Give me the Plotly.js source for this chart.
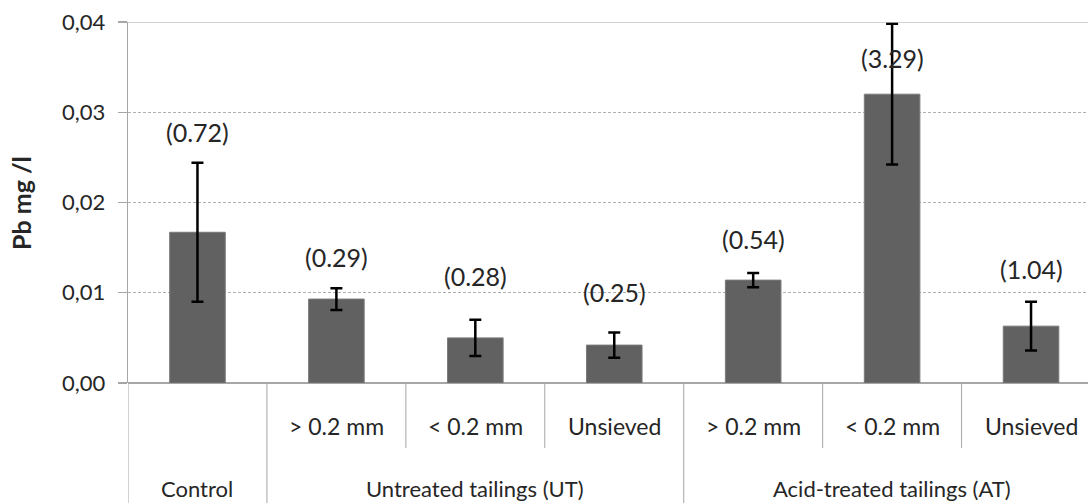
<!DOCTYPE html>
<html>
<head>
<meta charset="utf-8">
<script src="https://cdn.plot.ly/plotly-3.0.1.min.js"></script>
<style>
  html, body { margin: 0; padding: 0; background: #fff; overflow: hidden; }
  #chart { width: 1088px; height: 503px; }
</style>
</head>
<body>
<div id="chart"></div>
<script>
// ---- data ----
const subLabels = ["", "> 0.2 mm", "< 0.2 mm", "Unsieved", "> 0.2 mm", "< 0.2 mm", "Unsieved"];
const groupLabels = ["Control", "Untreated tailings (UT)", "Acid-treated tailings (AT)"];
const groupSizes = [1, 3, 3];
const values = [0.0167, 0.0093, 0.0050, 0.0042, 0.0114, 0.0320, 0.0063];
const errors = [0.0077, 0.0012, 0.0020, 0.0014, 0.0008, 0.0078, 0.0027];
const valueLabels = ["(0.72)", "(0.29)", "(0.28)", "(0.25)", "(0.54)", "(3.29)", "(1.04)"];
const yTickVals = [0, 0.01, 0.02, 0.03, 0.04];

// ---- style / placement config ----
const labelShift = [31, 31, 44, 40, 34, -34, 33]; // px offset of value label from error-bar top
const FONT = "Lato, 'Open Sans', sans-serif";
const TXT = "#262626";
const LINE = "#a6a6a6";
const subRowBottom = -0.18;
const tableBottom = -0.40;

const xs = values.map((_, i) => i);
const tops = values.map((v, i) => v + errors[i]);

const trace = {
  type: "bar",
  x: xs,
  y: values,
  width: 0.4,
  marker: { color: "#616161", line: { color: "#7a7a7a", width: 1 } },
  error_y: { type: "data", array: errors, visible: true, color: "#000", thickness: 2.5, width: 6 },
  hoverinfo: "skip"
};

const annotations = [];
valueLabels.forEach((t, i) => {
  annotations.push({
    x: xs[i], y: tops[i], xref: "x", yref: "y", text: t, showarrow: false,
    yshift: labelShift[i], yanchor: "middle", xanchor: "center",
    font: { family: FONT, size: 25, color: TXT }
  });
});
subLabels.forEach((t, i) => {
  if (!t) return;
  annotations.push({
    x: xs[i], y: -0.119, xref: "x", yref: "paper", text: t, showarrow: false,
    yanchor: "middle", xanchor: "center",
    font: { family: FONT, size: 23, color: TXT }
  });
});

const shapes = [];
let start = 0;
groupLabels.forEach((g, gi) => {
  const n = groupSizes[gi];
  const center = (xs[start] + xs[start + n - 1]) / 2;
  annotations.push({
    x: center, y: -0.292, xref: "x", yref: "paper", text: g, showarrow: false,
    yanchor: "middle", xanchor: "center",
    font: { family: FONT, size: 22, color: TXT }
  });
  shapes.push({ type: "line", xref: "x", yref: "paper", x0: start - 0.5, x1: start - 0.5,
    y0: 0, y1: tableBottom, line: { color: LINE, width: 1 } });
  for (let k = 1; k < n; k++) {
    const bx = start + k - 0.5;
    shapes.push({ type: "line", xref: "x", yref: "paper", x0: bx, x1: bx,
      y0: 0, y1: subRowBottom, line: { color: LINE, width: 1 } });
  }
  start += n;
});
shapes.push({ type: "line", xref: "x", yref: "paper", x0: start - 0.5, x1: start - 0.5,
  y0: 0, y1: tableBottom, line: { color: LINE, width: 1 } });
shapes.push({ type: "line", xref: "paper", yref: "y", x0: 0, x1: 1, y0: 0.04, y1: 0.04,
  line: { color: LINE, width: 1.2 } });

annotations.push({
  x: -0.112, y: 0.5, xref: "paper", yref: "paper", text: "<b>Pb mg /l</b>", showarrow: false,
  textangle: -90, xanchor: "center", yanchor: "middle",
  font: { family: FONT, size: 25, color: TXT }
});

const layout = {
  width: 1088, height: 503,
  margin: { l: 128, r: 0, t: 22, b: 120, pad: 0 },
  paper_bgcolor: "#fff", plot_bgcolor: "#fff",
  separators: ", ",
  showlegend: false,
  xaxis: {
    type: "linear", range: [-0.5, 6.41], showgrid: false, zeroline: false,
    showticklabels: false, ticks: "", showline: false, fixedrange: true
  },
  yaxis: {
    range: [0, 0.04], tickvals: yTickVals, tickformat: ".2f",
    showgrid: true, gridcolor: "#b0b0b0", griddash: "3px,2px", gridwidth: 1,
    zeroline: true, zerolinecolor: LINE, zerolinewidth: 1.2,
    showline: true, linecolor: LINE, linewidth: 1.2,
    ticks: "outside", ticklen: 9, tickcolor: LINE, tickwidth: 1.2,
    ticklabelstandoff: 8,
    tickfont: { family: FONT, size: 22, color: TXT },
    fixedrange: true
  },
  annotations: annotations,
  shapes: shapes
};

Plotly.newPlot("chart", [trace], layout, { staticPlot: true, displayModeBar: false });
</script>
</body>
</html>
